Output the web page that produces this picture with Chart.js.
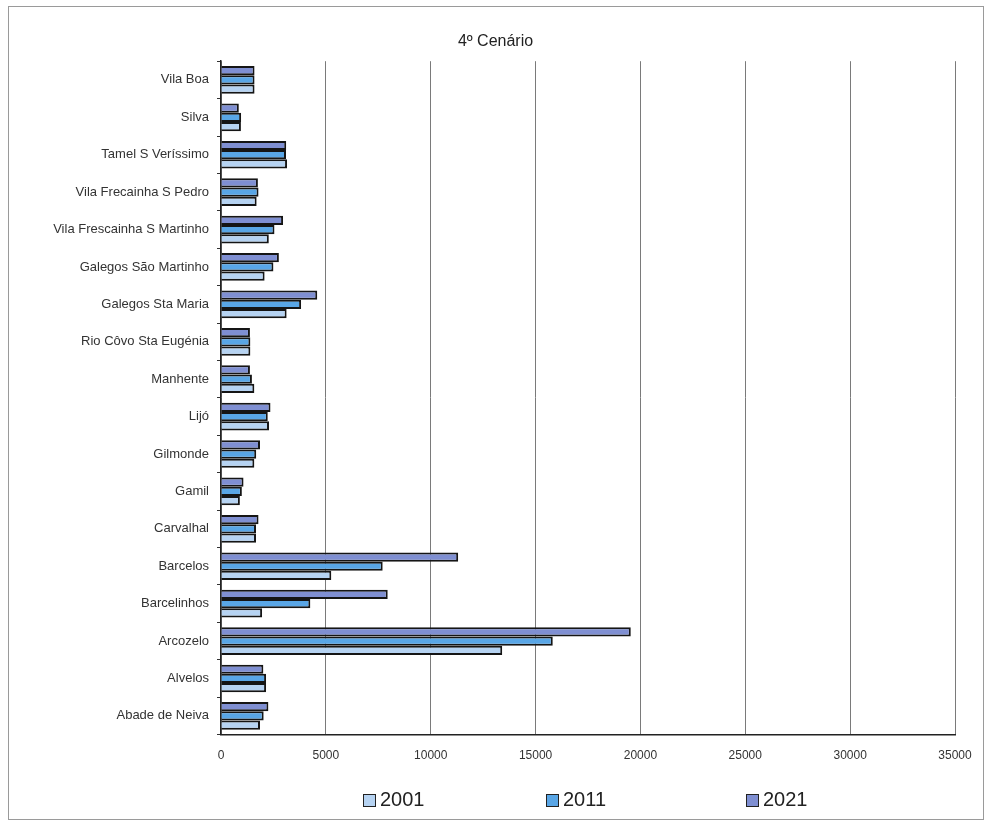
<!DOCTYPE html>
<html>
<head>
<meta charset="utf-8">
<script src="https://cdn.jsdelivr.net/npm/chart.js@4.4.0/dist/chart.umd.min.js"></script>
<style>
  html, body { margin: 0; padding: 0; background: #fff; }
  #wrap { width: 989px; height: 837px; }
</style>
</head>
<body>
<div id="wrap"><canvas id="cenario"></canvas></div>
<script>
// categories, top to bottom as in the picture
var freguesias = [
  "Vila Boa", "Silva", "Tamel S Veríssimo", "Vila Frecainha S Pedro",
  "Vila Frescainha S Martinho", "Galegos São Martinho", "Galegos Sta Maria",
  "Rio Côvo Sta Eugénia", "Manhente", "Lijó", "Gilmonde", "Gamil",
  "Carvalhal", "Barcelos", "Barcelinhos", "Arcozelo", "Alvelos", "Abade de Neiva"
];
var pop2001 = [1600, 950, 3150, 1700, 2280, 2080, 3130, 1400, 1590, 2290, 1590, 900, 1670, 5260, 1960, 13410, 2150, 1860];
var pop2011 = [1600, 960, 3100, 1790, 2550, 2500, 3820, 1400, 1475, 2230, 1680, 995, 1670, 7710, 4260, 15820, 2150, 2035];
var pop2021 = [1600, 850, 3110, 1760, 2960, 2760, 4590, 1380, 1380, 2360, 1860, 1075, 1790, 11310, 7950, 19540, 2020, 2260];
var anos = ["2001", "2011", "2021"];
var cores = ["#b6d3f2", "#59a6e6", "#7f8fd2"];

// frame round the whole chart + legend spread wide like the original
var extras = {
  id: "extras",
  afterDraw: function (chart) {
    var c = chart.ctx;
    c.save();
    c.strokeStyle = "#9a9a9a";
    c.lineWidth = 1;
    c.strokeRect(8.5, 6.5, 975, 813);
    var centros = [395, 578, 778];
    c.font = "20px 'Liberation Sans', Arial, sans-serif";
    c.textBaseline = "middle";
    for (var i = 0; i < anos.length; i++) {
      var x = centros[i] - 32;
      var y = 800;
      c.fillStyle = cores[i];
      c.fillRect(x, y - 6, 13, 13);
      c.strokeStyle = "#222";
      c.strokeRect(x + 0.5, y - 5.5, 12, 12);
      c.fillStyle = "#222";
      c.fillText(anos[i], x + 17, y);
    }
    c.restore();
  }
};

var ctx = document.getElementById("cenario");
new Chart(ctx, {
  type: "bar",
  data: {
    labels: freguesias,
    datasets: [
      { label: anos[2], data: pop2021, backgroundColor: cores[2] },
      { label: anos[1], data: pop2011, backgroundColor: cores[1] },
      { label: anos[0], data: pop2001, backgroundColor: cores[0] }
    ]
  },
  options: {
    indexAxis: "y",
    responsive: true,
    maintainAspectRatio: false,
    animation: false,
    datasets: {
      bar: {
        borderColor: "#151515",
        borderWidth: 2,
        categoryPercentage: 0.74,
        barPercentage: 1
      }
    },
    layout: { padding: { left: 36, right: 34, top: 10, bottom: 60 } },
    plugins: {
      legend: { display: false },
      tooltip: { enabled: false },
      title: {
        display: true,
        text: "4º Cenário",
        color: "#222",
        font: { family: "'Liberation Sans', Arial, sans-serif", size: 16, weight: "normal" },
        padding: { top: 22, bottom: 10 }
      }
    },
    scales: {
      x: {
        min: 0,
        max: 35000,
        ticks: {
          stepSize: 5000,
          color: "#333",
          padding: 14,
          maxRotation: 0,
          font: { family: "'Liberation Sans', Arial, sans-serif", size: 12 },
          callback: function (v) { return String(v); }
        },
        grid: { color: "#7a7a7a", lineWidth: 1, drawTicks: false },
        border: { color: "#222", width: 1.5 }
      },
      y: {
        afterFit: function (scale) { scale.width = 185; },
        ticks: {
          color: "#333",
          padding: 8,
          font: { family: "'Liberation Sans', Arial, sans-serif", size: 13 }
        },
        grid: { drawOnChartArea: false, drawTicks: true, tickLength: 4, color: "#333" },
        border: { color: "#222", width: 1.5 }
      }
    }
  },
  plugins: [extras]
});
</script>
</body>
</html>
